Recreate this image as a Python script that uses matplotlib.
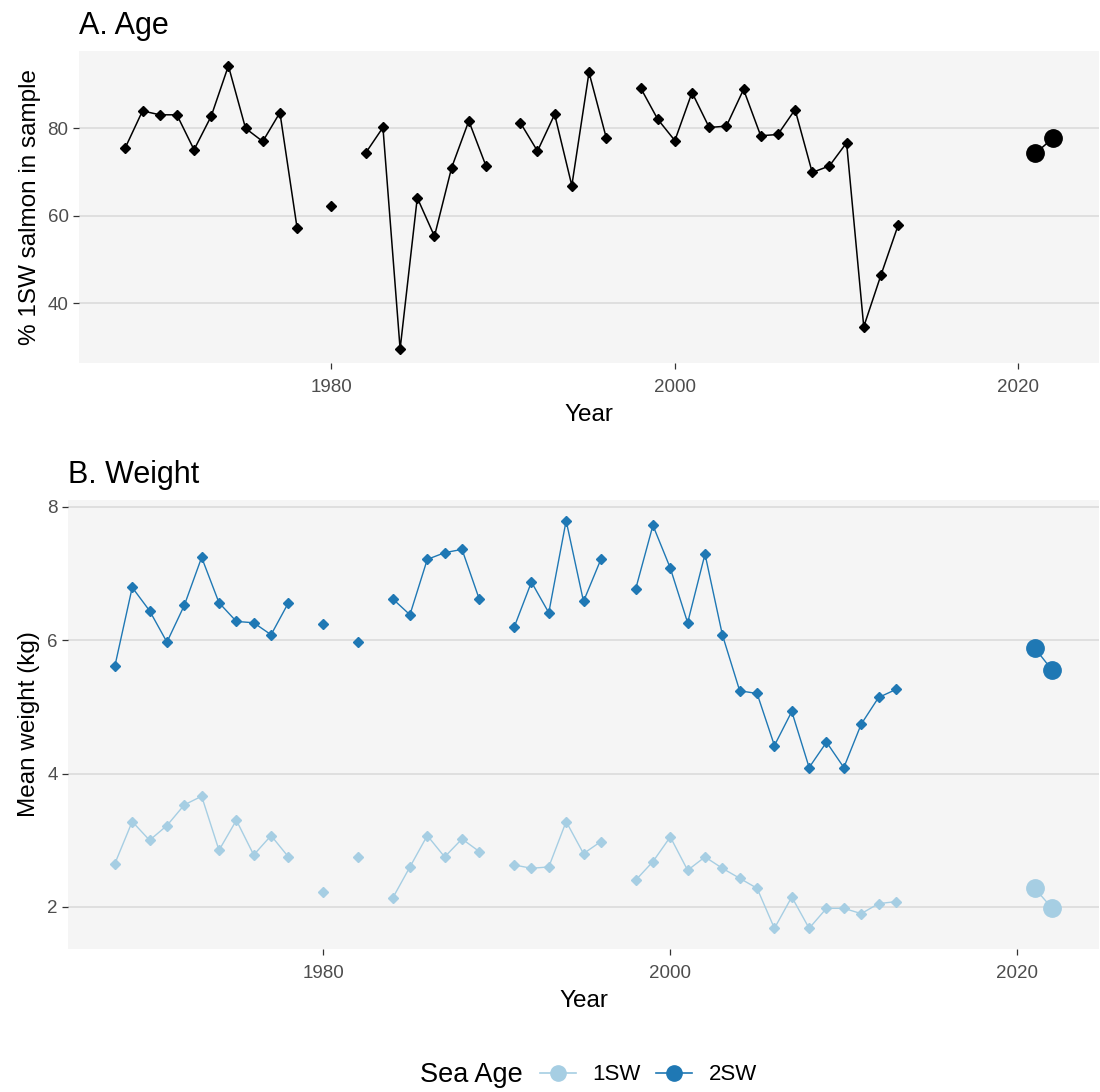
import numpy as np
import matplotlib
matplotlib.use("Agg")
import matplotlib.pyplot as plt
from matplotlib.lines import Line2D

plt.rcParams['font.family'] = ['Liberation Sans', 'DejaVu Sans']

nan = np.nan
years = list(range(1968, 2014))

# % 1SW salmon in sample
pct_1sw = [75.6, 84.0, 83.1, 83.1, 75.1, 82.8, 94.3, 80.0, 77.0, 83.6,
           57.2, nan, 62.3, nan, 74.4, 80.2, 29.5, 64.1, 55.3, 71.0,
           81.7, 71.4, nan, 81.3, 74.8, 83.2, 66.9, 92.8, 77.9, nan,
           89.3, 82.1, 77.2, 88.2, 80.2, 80.5, 88.9, 78.3, 78.6, 84.3,
           69.9, 71.4, 76.7, 34.6, 46.4, 57.8]

# mean weight (kg)
wt_1sw = [2.65, 3.28, 3.00, 3.22, 3.53, 3.66, 2.85, 3.30, 2.78, 3.07,
          2.75, nan, 2.23, nan, 2.75, nan, 2.13, 2.60, 3.07, 2.75,
          3.02, 2.83, nan, 2.63, 2.58, 2.60, 3.28, 2.80, 2.98, nan,
          2.40, 2.68, 3.05, 2.55, 2.75, 2.58, 2.43, 2.28, 1.68, 2.15,
          1.68, 1.98, 1.98, 1.90, 2.05, 2.08]
wt_2sw = [5.61, 6.79, 6.44, 5.97, 6.52, 7.24, 6.56, 6.28, 6.26, 6.08,
          6.56, nan, 6.24, nan, 5.97, nan, 6.62, 6.38, 7.21, 7.31,
          7.36, 6.61, nan, 6.19, 6.87, 6.41, 7.79, 6.58, 7.21, nan,
          6.76, 7.72, 7.08, 6.26, 7.29, 6.08, 5.24, 5.20, 4.42, 4.93,
          4.09, 4.47, 4.09, 4.74, 5.14, 5.26]

# recent samples
new_years = [2021, 2022]
new_pct = [74.3, 77.7]
new_1sw = [2.28, 1.98]
new_2sw = [5.88, 5.55]

c1 = '#A6CEE3'
c2 = '#1F78B4'
bg = '#F5F5F5'
grid = '#D9D9D9'

fig = plt.figure(figsize=(11, 10.92), dpi=100)
axA = fig.add_axes([79 / 1100, 1 - 363 / 1092, 1020 / 1100, 312 / 1092])
axB = fig.add_axes([68 / 1100, 1 - 949 / 1092, 1031 / 1100, 449 / 1092])


def style(ax):
    ax.set_facecolor(bg)
    for s in ax.spines.values():
        s.set_visible(False)
    ax.grid(axis='y', color=grid, lw=1.1)
    ax.set_axisbelow(True)
    ax.tick_params(length=4.5, width=0.9, color='#333333', labelcolor='#4D4D4D',
                   labelsize=13.5, pad=3)
    ax.tick_params(axis='x', pad=7)
    ax.set_xlim(1965.3, 2024.7)
    ax.set_xticks([1980, 2000, 2020])
    ax.set_xlabel('Year', fontsize=17.5, color='black', labelpad=6)


# panel A
style(axA)
axA.plot(years, pct_1sw, color='black', lw=1.1, marker='D', ms=5.5)
axA.plot(new_years, new_pct, color='black', lw=1.1, marker='o', ms=12.5)
axA.set_ylim(26.3, 97.7)
axA.set_yticks([40, 60, 80])
axA.set_ylabel('% 1SW salmon in sample', fontsize=17.5, labelpad=5)
axA.set_title('A. Age', loc='left', fontsize=22, pad=12)

# panel B
style(axB)
axB.plot(years, wt_1sw, color=c1, lw=1.0, marker='D', ms=5.5)
axB.plot(years, wt_2sw, color=c2, lw=1.0, marker='D', ms=5.5)
axB.plot(new_years, new_1sw, color=c1, lw=1.0, marker='o', ms=12.5)
axB.plot(new_years, new_2sw, color=c2, lw=1.0, marker='o', ms=12.5)
axB.set_ylim(1.37, 8.1)
axB.set_yticks([2, 4, 6, 8])
axB.set_ylabel('Mean weight (kg)', fontsize=17.5, labelpad=5)
axB.set_title('B. Weight', loc='left', fontsize=22, pad=12)

# legend
handles = [Line2D([], [], color=c1, marker='o', ms=11, lw=1.2),
           Line2D([], [], color=c2, marker='o', ms=11, lw=1.2)]
fig.text(420 / 1100, 1 - 1075 / 1092, 'Sea Age', fontsize=19.5, va='center')
fig.legend(handles, ['1SW', '2SW'], loc='center left', ncol=2,
           bbox_to_anchor=(520 / 1100, 1 - 1075 / 1092), frameon=False,
           fontsize=16, handlelength=1.6, columnspacing=0.7, handletextpad=0.75)

fig.savefig('out.png', dpi=100)
